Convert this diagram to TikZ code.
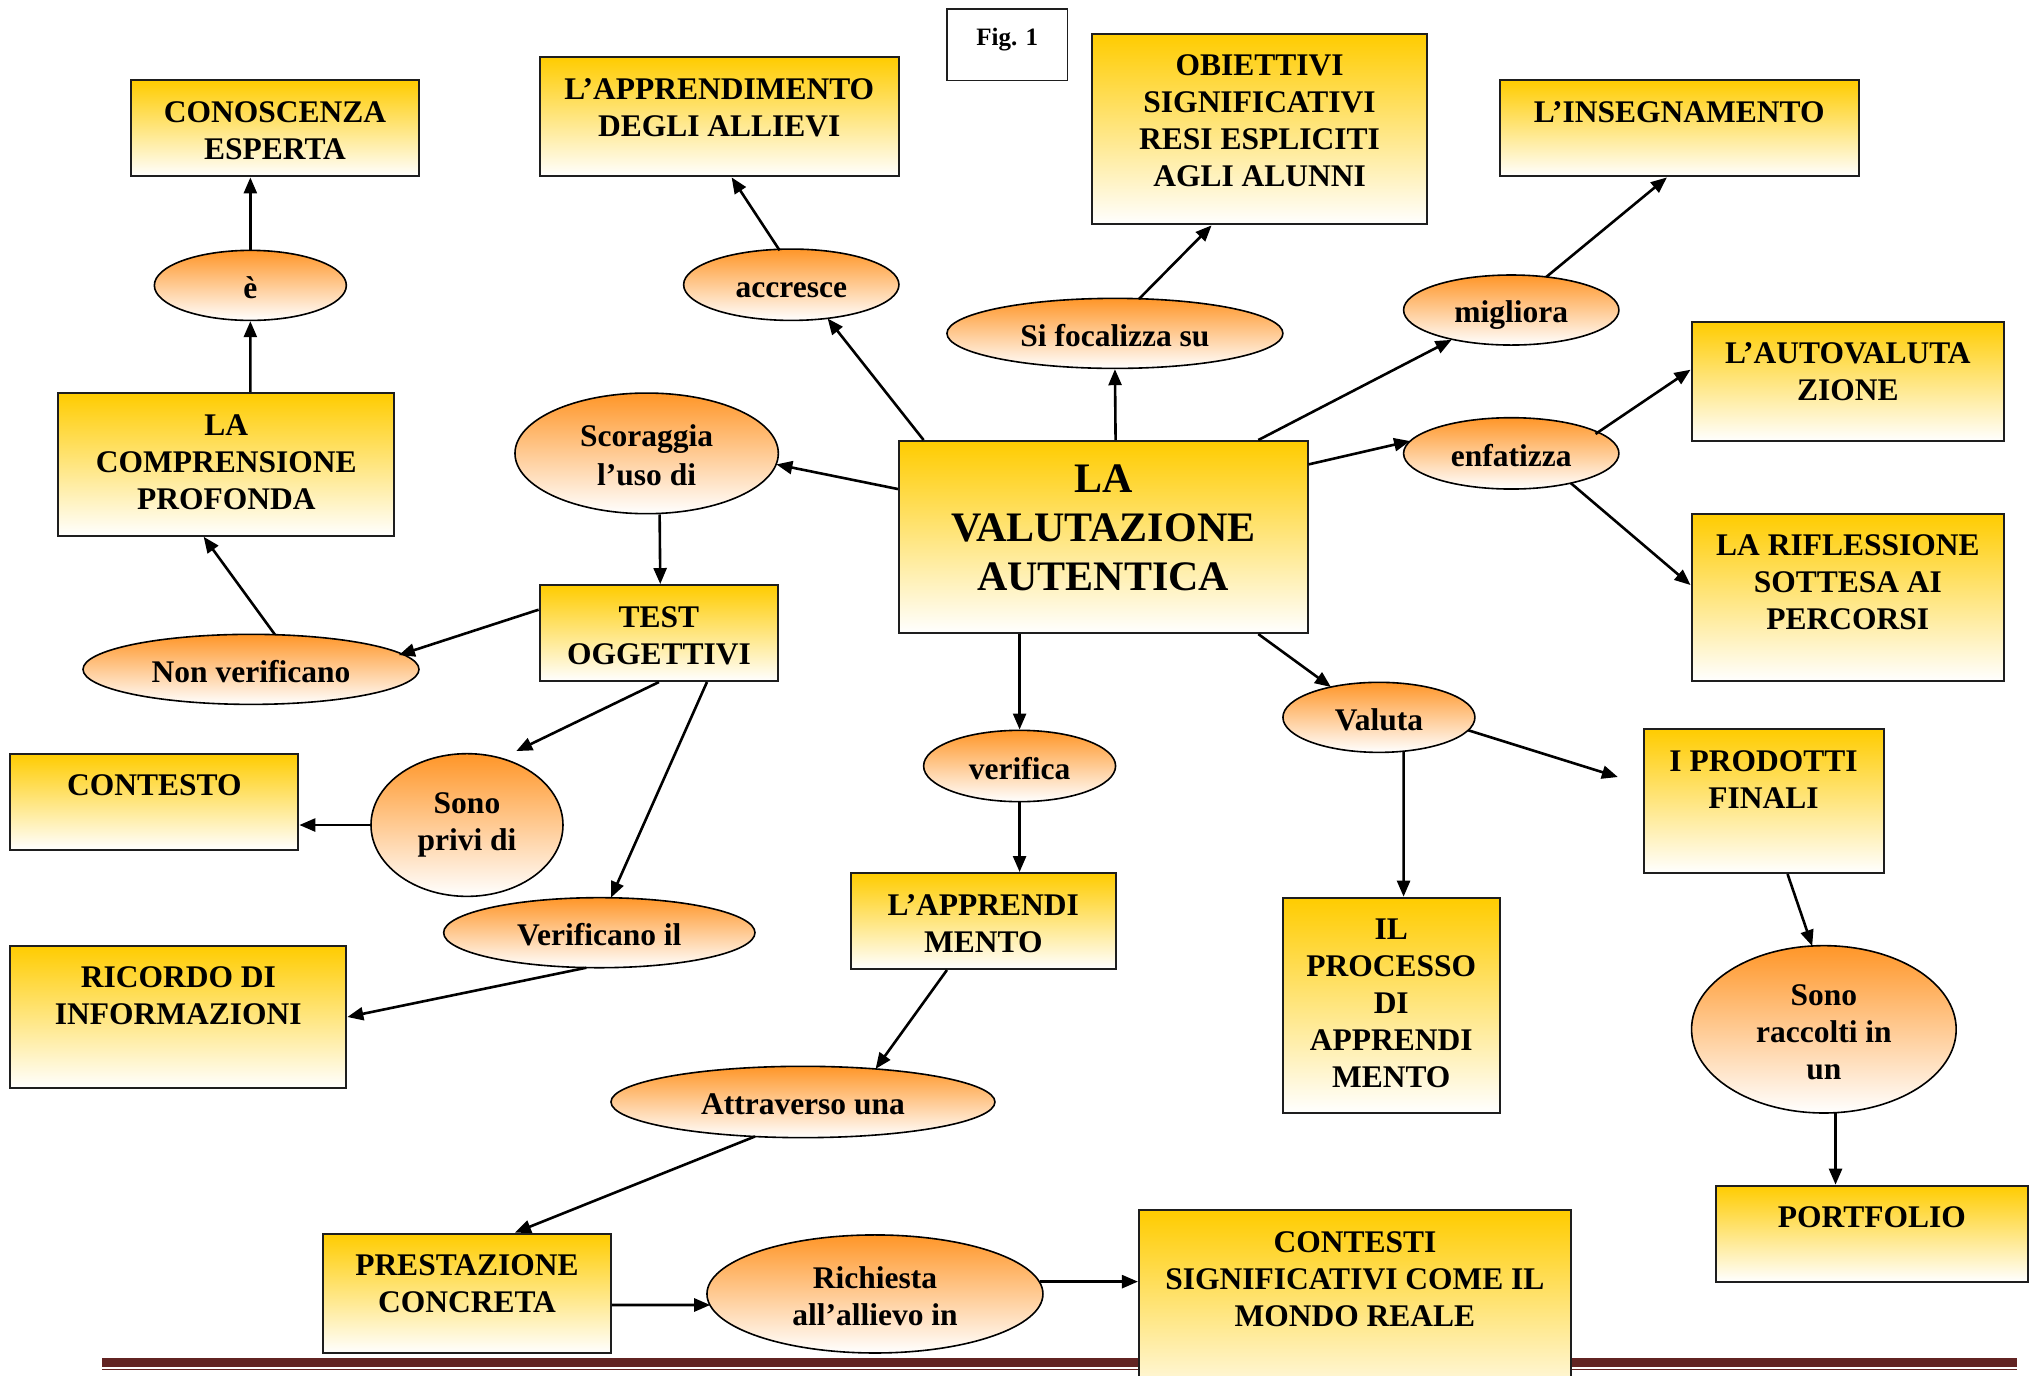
\documentclass[tikz,border=0pt]{standalone}
\usepackage{fontspec}
\setmainfont{Liberation Serif}
\usetikzlibrary{shapes.geometric,arrows.meta,calc}
\definecolor{boxyel}{RGB}{255,204,0}
\definecolor{ellor}{RGB}{255,150,40}
\definecolor{barred}{RGB}{98,36,35}
\definecolor{bordgray}{RGB}{30,30,30}
\newcommand\es{\rule[-5pt]{0pt}{36pt}}
\tikzset{
  boxst/.style={draw=bordgray, line width=2pt, top color=boxyel, bottom color=white, shading angle=0, inner sep=0pt},
  figst/.style={draw=bordgray, line width=1.6pt, fill=white, inner sep=0pt},
  ellst/.style={ellipse, draw=black, line width=1.6pt, top color=ellor, bottom color=white, inner sep=0pt, align=center, font=\fontsize{31.5}{37}\selectfont\bfseries},
  txt/.style={inner sep=0pt, align=center, font=\fontsize{31.5}{37}\selectfont\bfseries},
  bigtxt/.style={inner sep=0pt, align=center, font=\fontsize{42}{49}\selectfont\bfseries},
  figtxt/.style={inner sep=0pt, align=center, font=\fontsize{25}{30}\selectfont\bfseries},
  conn/.style={line width=2.6pt, -{Triangle[length=16pt,width=13pt]}}
}
% box: [text shift] name x1 y1 x2 y2 text
\newcommand\mkbox[7][22pt]{%
  \node[boxst, minimum width={(#5-#3)*1.2972pt}, minimum height={(#6-#4)*1.2972pt}] (#2) at ({(#3+#5)/2},{(#4+#6)/2}) {};
  \node[txt, anchor=north] (#2-t) at ([yshift=-#1]#2.north) {#7};
}
% ellipse: name cx cy w h text
\newcommand\mkell[6]{%
  \node[ellst, minimum width={#4*1.2972pt}, minimum height={#5*1.2972pt}] (#1) at (#2,#3) {#6};
}
\begin{document}
\begin{tikzpicture}[x=1.2972pt, y=-1.2972pt]
\useasboundingbox (0,0) rectangle (1568,1060);

% bottom bar
\fill[barred] (79,1047) rectangle (1555,1054);
\fill[barred] (79,1055.4) rectangle (1555,1056.4);

% Fig. 1
\node[figst, minimum width={93*1.2972pt}, minimum height={55*1.2972pt}] (fig) at (776.5,34.5) {};
\node[figtxt, anchor=north] (fig-t) at ([yshift=-19.5pt]fig.north) {Fig. 1};

% boxes
\mkbox{cono}{101}{62}{323}{136}{CONOSCENZA\\ESPERTA}
\mkbox{appr}{416}{44}{693}{136}{L’APPRENDIMENTO\\DEGLI ALLIEVI}
\mkbox{obie}{842}{26}{1100}{173}{OBIETTIVI\\SIGNIFICATIVI\\RESI ESPLICITI\\AGLI ALUNNI}
\mkbox{inse}{1156}{62}{1433}{136}{L’INSEGNAMENTO}
\mkbox{auto}{1304}{248}{1545}{340}{L’AUTOVALUTA\\ZIONE}
\mkbox{comp}{45}{303}{304}{413}{LA\\COMPRENSIONE\\PROFONDA}
\node[boxst, minimum width={315*1.2972pt}, minimum height={148*1.2972pt}] (cen) at (850.5,414) {};
\node[bigtxt, anchor=north] (cen-t) at ([yshift=-25pt]cen.north) {LA\\VALUTAZIONE\\AUTENTICA};
\mkbox{rifl}{1304}{396}{1545}{525}{LA RIFLESSIONE\\SOTTESA AI\\PERCORSI}
\mkbox{test}{416}{451}{600}{525}{TEST\\OGGETTIVI}
\mkbox{cont}{8}{581}{230}{655}{CONTESTO}
\mkbox{prod}{1267}{562}{1452}{673}{I PRODOTTI\\FINALI}
\mkbox{appm}{656}{673}{860}{747}{L’APPRENDI\\MENTO}
\mkbox{proc}{989}{692}{1156}{858}{IL\\PROCESSO\\DI\\APPRENDI\\MENTO}
\mkbox{rico}{8}{729}{267}{839}{RICORDO DI\\INFORMAZIONI}
\mkbox{port}{1323}{914}{1563}{988}{PORTFOLIO}
\mkbox{pres}{249}{951}{471}{1043}{PRESTAZIONE\\CONCRETA}
\mkbox{ctst}{878}{933}{1211}{1090}{CONTESTI\\SIGNIFICATIVI COME IL\\MONDO REALE}

% ellipses
\mkell{ee}{193}{220}{148}{54}{\es è}
\mkell{accr}{610}{219.5}{166}{55}{\es accresce}
\mkell{foca}{859.5}{257}{259}{54}{\es Si focalizza su}
\mkell{migl}{1165}{239}{166}{54}{\es migliora}
\mkell{enfa}{1165}{349.5}{166}{55}{\es enfatizza}
\mkell{scor}{498.5}{349.5}{203}{93}{\es Scoraggia\\\es l’uso di}
\mkell{nonv}{193.5}{516}{259}{54}{\es Non verificano}
\mkell{priv}{360}{636}{148}{110}{Sono\\privi di}
\mkell{veri}{786}{590.5}{148}{55}{\es verifica}
\mkell{valu}{1063}{553}{148}{54}{\es Valuta}
\mkell{vil}{462}{719}{240}{54}{\es Verificano il}
\mkell{racc}{1406}{793.5}{204}{129}{\es Sono\\\es raccolti in\\\es un}
\mkell{attr}{619}{849.5}{296}{55}{\es Attraverso una}
\mkell{rich}{674.5}{997.5}{259}{91}{\es Richiesta\\\es all’allievo in}

% connectors
\draw[conn] (ee.north) -- ($(cono.south)+(-19,0)$);
\draw[conn] ($(comp.north)+(18.5,0)$) -- (ee.south);
\draw[conn] ($(nonv.center)+(18.5,-26.7)$) -- ($(comp.south)+(-17.5,0)$);
\draw[conn] ($(test.west)+(0,-18)$) -- ($(nonv.center)+(114,-11)$);
\draw[conn] ($(scor.south)+(10,0)$) -- ($(test.north)+(1,0)$);
\draw[conn] ($(cen.west)+(0,-37)$) -- ($(scor.center)+(100,8.5)$);
\draw[conn] ($(cen.north)+(-138.5,0)$) -- ($(accr.center)+(28,26)$);
\draw[conn] ($(accr.center)+(-9,-26.5)$) -- ($(appr.south)+(9.5,0)$);
\draw[conn] ($(cen.north)+(9.5,0)$) -- (foca.south);
\draw[conn] ($(foca.center)+(18.5,-26.5)$) -- ($(obie.south)+(-37,0)$);
\draw[conn] ($(cen.north)+(119.5,0)$) -- ($(migl.center)+(-46,23)$);
\draw[conn] ($(migl.center)+(27,-25.5)$) -- ($(inse.south)+(-9.5,0)$);
\draw[conn] ($(cen.east)+(0,-56)$) -- ($(enfa.center)+(-78,-9.5)$);
\draw[conn] ($(enfa.center)+(65,-15)$) -- ($(auto.west)+(0,-9)$);
\draw[conn] ($(enfa.center)+(46,23)$) -- ($(rifl.west)+(0,-9.5)$);
\draw[conn] ($(cen.south)+(119.5,0)$) -- ($(valu.center)+(-37,-23.4)$);
\draw[conn] ($(valu.center)+(69,10)$) -- ($(prod.west)+(-19,-18.5)$);
\draw[conn] ($(valu.center)+(19,26)$) -- ($(proc.north)+(9.5,0)$);
\draw[conn] ($(cen.south)+(-64.5,0)$) -- (veri.north);
\draw[conn] (veri.south) -- ($(appm.north)+(28,0)$);
\draw[conn] ($(appm.south)+(-28,0)$) -- ($(attr.center)+(56,-25.5)$);
\draw[conn] ($(attr.center)+(-37,26.6)$) -- ($(pres.north)+(37,0)$);
\draw[conn] ($(pres.east)+(0,9)$) -- ($(rich.center)+(-127,8.5)$);
\draw[conn] ($(rich.center)+(127,-9.5)$) -- ($(ctst.west)+(0,-23.5)$);
\draw[conn] (test.south) -- ($(priv.center)+(38,-57)$);
\draw[conn] (priv.west) -- ($(cont.east)+(0,18)$);
\draw[conn] ($(test.south)+(37,0)$) -- ($(vil.center)+(9,-27)$);
\draw[conn] ($(vil.center)+(-10,27)$) -- (rico.east);
\draw[conn] ($(prod.south)+(18.5,0)$) -- ($(racc.center)+(-9,-64.2)$);
\draw[conn] ($(racc.center)+(9,64.2)$) -- ($(port.north)+(-28,0)$);
\end{tikzpicture}
\end{document}
